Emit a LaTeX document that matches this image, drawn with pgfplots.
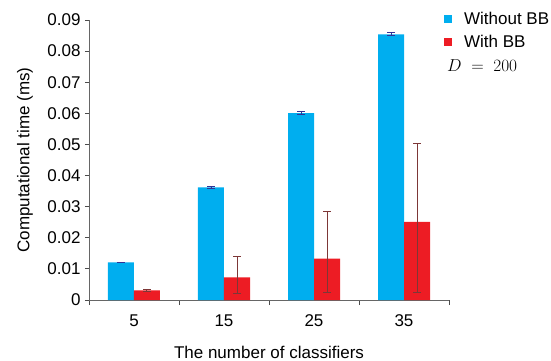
\documentclass[border=0pt]{standalone}
\usepackage{pgfplots}
\pgfplotsset{compat=1.18}
\usepackage{fontspec}
\setmainfont{Liberation Sans}
\definecolor{cblue}{RGB}{0,174,239}
\definecolor{cred}{RGB}{237,28,36}
\definecolor{eblue}{RGB}{50,50,150}
\definecolor{ered}{RGB}{125,55,55}
\begin{document}
\begin{tikzpicture}
\useasboundingbox (-89pt,-61pt) rectangle (462pt,300pt);
\begin{axis}[
  at={(0pt,0pt)}, anchor=south west,
  scale only axis, width=360pt, height=280pt,
  xmin=-0.5, xmax=3.5, ymin=0, ymax=0.09,
  axis x line=bottom, axis y line=left,
  axis line style={-, black!60, line width=0.8pt},
  every tick/.style={black!70, line width=0.8pt},
  tick align=outside,
  scaled y ticks=false,
  ytick={0,0.01,0.02,0.03,0.04,0.05,0.06,0.07,0.08,0.09},
  yticklabels={0,0.01,0.02,0.03,0.04,0.05,0.06,0.07,0.08,0.09},
  major tick length=4pt,
  xtick={0,1,2,3}, xticklabels={5,15,25,35},
  major x tick style={draw=none},
  minor xtick={-0.5,0.5,1.5,2.5,3.5}, minor tick length=5pt,
  tick label style={font=\fontsize{17}{20}\selectfont},
  /pgf/number format/assume math mode=true,
  yticklabel style={xshift=-1pt},
  xticklabel style={yshift=-7pt},
  ylabel={Computational time (ms)},
  xlabel={The number of classifiers},
  every axis y label/.style={at={(axis description cs:-0.178,0.5)}, anchor=center, rotate=90, font=\fontsize{17}{20}\selectfont},
  every axis x label/.style={at={(axis description cs:0.5,-0.186)}, anchor=center, font=\fontsize{17}{20}\selectfont},
  ybar=0pt, bar width=26pt,
  legend style={at={(axis description cs:0.986,1.035)}, anchor=north west, draw=none, fill=none,
    font=\fontsize{17}{20}\selectfont, row sep=4.5pt, inner sep=0pt},
  legend cell align=left,
  legend image code/.code={\fill[#1] (0pt,-4pt) rectangle (8pt,4pt); \path (18pt,0pt);},
  clip=false,
]
\addplot[fill=cblue, draw=none,
  error bars/.cd, y dir=both, y explicit,
  error bar style={eblue, line width=0.8pt},
  error mark options={rotate=90, mark size=4pt, eblue, line width=0.8pt}]
  coordinates {(0,0.0121) +- (0,0.0001) (1,0.0362) +- (0,0.0002) (2,0.0601) +- (0,0.0004) (3,0.0854) +- (0,0.0005)};
\addplot[fill=cred, draw=none,
  error bars/.cd, y dir=both, y explicit,
  error bar style={ered, line width=1pt},
  error mark options={rotate=90, mark size=4pt, ered, line width=1pt}]
  coordinates {(0,0.0031) += (0,0.0004) -= (0,0.0004)
               (1,0.0073) += (0,0.0068) -= (0,0.0052)
               (2,0.0133) += (0,0.0153) -= (0,0.0108)
               (3,0.0251) += (0,0.0251) -= (0,0.0226)};
\legend{Without BB, With BB}
\end{axis}
\node[anchor=west, inner sep=0pt] at (358pt,234pt) {\fontsize{19}{22}\selectfont $D\;=\;200$};
\end{tikzpicture}
\end{document}
